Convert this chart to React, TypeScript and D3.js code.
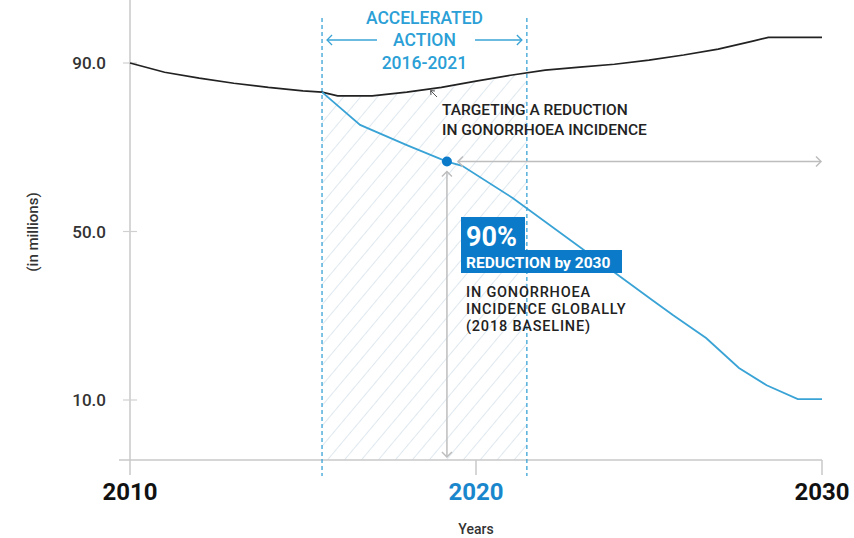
import React from "react";
import * as d3 from "d3";

const baseYears = [2010, 2011, 2012, 2013, 2014, 2015, 2015.55, 2016, 2017, 2018, 2019, 2020, 2021, 2022, 2023, 2024, 2025, 2026, 2027, 2028, 2028.45, 2030];
const baseValues = [90.0, 87.8, 86.4, 85.2, 84.2, 83.4, 83.1, 82.2, 82.2, 83.1, 84.2, 85.7, 87.1, 88.3, 89.0, 89.7, 90.7, 91.9, 93.3, 95.2, 96.1, 96.1];

const targetYears = [2015.55, 2016.65, 2018, 2019.16, 2019.6, 2021.07, 2025.1, 2025.7, 2026.65, 2027.6, 2028.4, 2029.3, 2030];
const targetValues = [83.1, 75.3, 70.5, 66.6, 65.6, 57.9, 33.7, 30.1, 24.7, 17.6, 13.5, 10.2, 10.2];

const actionStart = 2015.55;
const actionEnd = 2021.47;
const markerYear = 2019.16;
const markerValue = 66.6;

const yTicks = [10, 50, 90];
const xTicks = [2010, 2020, 2030];
const xTickColors = ["#111", "#1a87cc", "#111"];

const headerLines = ["ACCELERATED", "ACTION", "2016-2021"];
const targetLines = ["TARGETING A REDUCTION", "IN GONORRHOEA INCIDENCE"];
const noteLines = ["IN GONORRHOEA", "INCIDENCE GLOBALLY", "(2018 BASELINE)"];

const FONT = "Roboto, 'Helvetica Neue', Arial, sans-serif";
const BLUE = "#3aa3d6";
const DARKBLUE = "#0b7bc9";
const GRAY = "#bdbdbd";

export default function App() {
  const x = d3.scaleLinear().domain([2010, 2030]).range([130, 822]);
  const y = d3.scaleLinear().domain([10, 90]).range([400, 63]);
  const axisY = 460;

  const base = baseYears.map((yr, i) => [yr, baseValues[i]] as [number, number]);
  const target = targetYears.map((yr, i) => [yr, targetValues[i]] as [number, number]);

  const line = d3.line<[number, number]>().x(d => x(d[0])).y(d => y(d[1]));
  const area = d3.area<[number, number]>().x(d => x(d[0])).y0(axisY).y1(d => y(d[1]));

  const x0 = x(actionStart);
  const x1 = x(actionEnd);
  const mx = x(markerYear);
  const my = y(markerValue);
  const hx = (x0 + x1) / 2;

  const chevron = (cx: number, cy: number, dir: "l" | "r" | "u" | "d", s = 5) => {
    if (dir === "l") return `M${cx + s},${cy - s}L${cx},${cy}L${cx + s},${cy + s}`;
    if (dir === "r") return `M${cx - s},${cy - s}L${cx},${cy}L${cx - s},${cy + s}`;
    if (dir === "u") return `M${cx - s},${cy + s}L${cx},${cy}L${cx + s},${cy + s}`;
    return `M${cx - s},${cy - s}L${cx},${cy}L${cx + s},${cy - s}`;
  };

  return (
    <svg width={854} height={538} style={{ position: "absolute", left: 0, top: 0, background: "#fff" }} fontFamily={FONT}>
      <defs>
        <pattern id="hatch" patternUnits="userSpaceOnUse" width={13} height={13} patternTransform="rotate(40)">
          <line x1={0} y1={0} x2={0} y2={13} stroke="#c5d4e2" strokeWidth={1.1} />
        </pattern>
        <clipPath id="actionClip">
          <rect x={x0} y={0} width={x1 - x0} height={538} />
        </clipPath>
      </defs>

      {/* hatched region */}
      <path d={area(base) || ""} fill="url(#hatch)" clipPath="url(#actionClip)" />

      {/* axes */}
      <line x1={130} y1={0} x2={130} y2={475} stroke="#c8c8c8" strokeWidth={1.5} />
      <line x1={119} y1={axisY} x2={x(2030)} y2={axisY} stroke="#c8c8c8" strokeWidth={1.5} />
      {xTicks.slice(1).map(t => (
        <line key={t} x1={x(t)} y1={axisY} x2={x(t)} y2={475} stroke="#c8c8c8" strokeWidth={1.5} />
      ))}
      {yTicks.map(t => (
        <g key={t}>
          <line x1={123} y1={y(t)} x2={137} y2={y(t)} stroke="#d0d0d0" strokeWidth={1.2} />
          <text x={106} y={y(t)} dy="0.36em" textAnchor="end" fontSize={17} fontWeight={500} fill="#333">
            {t.toFixed(1)}
          </text>
        </g>
      ))}
      {xTicks.map((t, i) => (
        <text key={t} x={x(t)} y={500} textAnchor="middle" fontSize={24} fontWeight={700} fill={xTickColors[i]}>
          {t}
        </text>
      ))}
      <text x={x(2020)} y={534} textAnchor="middle" fontSize={14} fontWeight={500} fill="#333">Years</text>
      <text transform={`translate(38,232) rotate(-90)`} textAnchor="middle" fontSize={15} fontWeight={500} fill="#333">(in millions)</text>

      {/* dashed region borders */}
      {[x0, x1].map((xx, i) => (
        <line key={i} x1={xx} y1={18} x2={xx} y2={476} stroke={BLUE} strokeWidth={1.3} strokeDasharray="4,3" />
      ))}

      {/* header */}
      {headerLines.map((s, i) => (
        <text key={s} x={hx} y={23.5 + i * 22.5} textAnchor="middle" fontSize={17.5} fontWeight={500} fill="#2b9fd6">{s}</text>
      ))}
      <line x1={x0 + 5} y1={40} x2={377} y2={40} stroke={BLUE} strokeWidth={1.3} />
      <path d={chevron(x0 + 5, 40, "l", 5)} fill="none" stroke={BLUE} strokeWidth={1.3} />
      <line x1={475} y1={40} x2={x1 - 5} y2={40} stroke={BLUE} strokeWidth={1.3} />
      <path d={chevron(x1 - 5, 40, "r", 5)} fill="none" stroke={BLUE} strokeWidth={1.3} />

      {/* lines */}
      <path d={line(base) || ""} fill="none" stroke="#222" strokeWidth={1.7} />
      <path d={line(target) || ""} fill="none" stroke={BLUE} strokeWidth={1.8} />

      {/* pointer to black line */}
      <line x1={437} y1={97} x2={431} y2={91} stroke="#555" strokeWidth={1} />
      <path d="M431,95 L430.5,90.5 L435,91" fill="none" stroke="#555" strokeWidth={1} />
      {targetLines.map((s, i) => (
        <text key={s} x={442} y={115 + i * 20} fontSize={15.5} fontWeight={500} fill="#222">{s}</text>
      ))}

      {/* gray arrows */}
      <line x1={mx + 11} y1={my} x2={x(2030) - 1} y2={my} stroke={GRAY} strokeWidth={1.5} />
      <path d={chevron(mx + 11, my, "l", 5)} fill="none" stroke={GRAY} strokeWidth={1.5} />
      <path d={chevron(x(2030) - 1, my, "r", 5)} fill="none" stroke={GRAY} strokeWidth={1.5} />
      <line x1={mx} y1={my + 10} x2={mx} y2={axisY - 3} stroke={GRAY} strokeWidth={1.5} />
      <path d={chevron(mx, my + 10, "u", 5)} fill="none" stroke={GRAY} strokeWidth={1.5} />
      <path d={chevron(mx, axisY - 3, "d", 5)} fill="none" stroke={GRAY} strokeWidth={1.5} />

      <circle cx={mx} cy={my} r={5} fill={DARKBLUE} />

      {/* 90% label */}
      <rect x={461} y={217} width={64} height={36} fill={DARKBLUE} />
      <rect x={461} y={250} width={161} height={23} fill={DARKBLUE} />
      <text x={466} y={246} fontSize={27} fontWeight={700} fill="#fff">90%</text>
      <text x={466} y={267.5} fontSize={15.5} fontWeight={700} fill="#fff">REDUCTION by 2030</text>
      {noteLines.map((s, i) => (
        <text key={s} x={466} y={297 + i * 17} fontSize={14.5} fontWeight={500} letterSpacing={0.8} fill="#222">{s}</text>
      ))}
    </svg>
  );
}
